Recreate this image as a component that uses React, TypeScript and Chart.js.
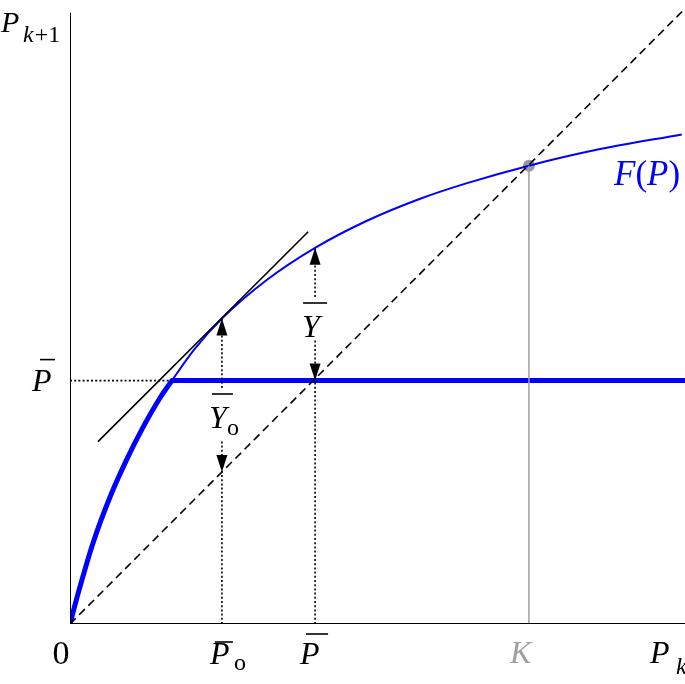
import React, { useEffect, useRef } from "react";
import { Chart, registerables } from "chart.js";

Chart.register(...registerables);

// Population (x, in units of K) and recruitment F(P)
const P_VALUES = [0, 0.011, 0.022, 0.05, 0.087, 0.124, 0.159, 0.196, 0.222, 0.27, 0.331, 0.43, 0.534, 0.647, 0.763, 0.865, 1.0, 1.15, 1.333];
const F_VALUES = [0, 0.042, 0.082, 0.176, 0.276, 0.359, 0.428, 0.492, 0.53, 0.597, 0.665, 0.75, 0.819, 0.878, 0.926, 0.96, 0.998, 1.033, 1.066];

const X_MAX = 1.34;
const Y_MAX = 1.35;
const Y_AXIS_TOP = 1.331;

const P_BAR = 0.53; // harvest cap level
const P_BAR_X = 0.534;
const P0_BAR = 0.331; // point where F'(P) = 1
const F_AT_P0 = 0.665;
const F_AT_PBAR = 0.819;
const CAP_START = 0.222; // where F(P) reaches P_BAR
const K_VALUE = 1.0;
const F_AT_K = 0.998;

const TANGENT_X = [0.061, 0.519];
const TANGENT_Y = [0.397, 0.854];

// label gaps on the dotted verticals (data units)
const GAP_P0 = [0.401, 0.514];
const GAP_PBAR = [0.619, 0.712];

const BLUE = "#0000ff";
const GREY = "#a0a0a0";
const SERIF = '"Liberation Serif", "Times New Roman", Times, serif';

const pts = (xs: number[], ys: number[]) => xs.map((x, i) => ({ x, y: ys[i] }));

export default function App() {
  const ref = useRef<HTMLCanvasElement | null>(null);

  useEffect(() => {
    const canvas = ref.current;
    if (!canvas) return;
    let chart: any = null;
    let cancelled = false;

    const build = () => {
      if (cancelled) return;
      const capIdx = P_VALUES.indexOf(CAP_START);
      const capCurve = pts(P_VALUES.slice(0, capIdx + 1), F_VALUES.slice(0, capIdx + 1));

      const line = (data: any[], color: string, width: number, dash: number[] = [], extra: any = {}) => ({
        data,
        showLine: true,
        borderColor: color,
        backgroundColor: color,
        borderWidth: width,
        borderDash: dash,
        pointRadius: 0,
        pointHoverRadius: 0,
        fill: false,
        tension: 0,
        ...extra,
      });

      const dot = [2, 2.2];

      const labelsPlugin = {
        id: "labels",
        afterDatasetsDraw(c: any) {
          const ctx = c.ctx as CanvasRenderingContext2D;
          const xs = c.scales.x;
          const ys = c.scales.y;
          const X = (v: number) => xs.getPixelForValue(v);
          const Y = (v: number) => ys.getPixelForValue(v);
          ctx.save();

          const arrow = (xv: number, yv: number, up: boolean) => {
            const x = X(xv);
            const y = Y(yv);
            const len = 17;
            const hw = 5.5;
            ctx.fillStyle = "#000";
            ctx.beginPath();
            ctx.moveTo(x, y);
            ctx.lineTo(x - hw, up ? y + len : y - len);
            ctx.lineTo(x + hw, up ? y + len : y - len);
            ctx.closePath();
            ctx.fill();
          };
          arrow(P0_BAR, F_AT_P0, true);
          arrow(P0_BAR, P0_BAR, false);
          arrow(P_BAR_X, F_AT_PBAR, true);
          arrow(P_BAR_X, P_BAR, false);

          const bar = (x1: number, x2: number, y: number, color = "#000") => {
            ctx.strokeStyle = color;
            ctx.lineWidth = 1.6;
            ctx.beginPath();
            ctx.moveTo(x1, y);
            ctx.lineTo(x2, y);
            ctx.stroke();
          };
          const text = (s: string, x: number, y: number, font: string, color = "#000", align: CanvasTextAlign = "left") => {
            ctx.font = font;
            ctx.fillStyle = color;
            ctx.textBaseline = "alphabetic";
            ctx.textAlign = align;
            ctx.fillText(s, x, y);
            return ctx.measureText(s).width;
          };
          const big = `32px ${SERIF}`;
          const bigI = `italic 32px ${SERIF}`;
          const smallI = `italic 24px ${SERIF}`;
          const small = `24px ${SERIF}`;

          // y-axis title P_{k+1}
          text("P", 1, 32, `italic 30px ${SERIF}`);
          const kw = text("k", 23, 42, smallI);
          text("+1", 23 + kw + 1, 42, small);

          // P-bar on y axis
          const ypb = Y(P_BAR);
          text("P", 32, ypb + 10, bigI);
          bar(40, 55, ypb - 21);

          // bottom labels
          const base = 664;
          text("0", 61, base, `34px ${SERIF}`, "#000", "center");

          text("P", X(P0_BAR) - 12, base, bigI);
          bar(X(P0_BAR) - 7, X(P0_BAR) + 11, 642);
          text("o", X(P0_BAR) + 12, base + 6, small);

          text("P", X(P_BAR_X) - 15, base, bigI);
          bar(X(P_BAR_X) - 9, X(P_BAR_X) + 13, 634);

          text("K", X(K_VALUE) - 19, base - 1, bigI, GREY);

          text("P", 650, base - 1, bigI);
          text("k", 676, base + 10, smallI);

          // F(P)
          let fx = 614;
          const fy = 185;
          const fI = `italic 35px ${SERIF}`;
          const fR = `35px ${SERIF}`;
          fx += text("F", fx, fy, fI, BLUE);
          fx += text("(", fx, fy, fR, BLUE);
          fx += text("P", fx, fy, fI, BLUE);
          text(")", fx, fy, fR, BLUE);

          // Y-bar
          text("Y", X(P_BAR_X) - 13, 337, bigI);
          bar(X(P_BAR_X) - 12, X(P_BAR_X) + 12, 303);

          // Y-bar_o
          text("Y", X(P0_BAR) - 13, 428, bigI);
          bar(X(P0_BAR) - 10, X(P0_BAR) + 11, 394);
          text("o", X(P0_BAR) + 5, 435, small);

          ctx.restore();
        },
      };

      chart = new Chart(canvas, {
        type: "scatter",
        data: {
          datasets: [
            // axes
            line([{ x: 0, y: 0 }, { x: X_MAX, y: 0 }], "#000", 2),
            line([{ x: 0, y: 0 }, { x: 0, y: Y_AXIS_TOP }], "#000", 2),
            // K marker line
            line([{ x: K_VALUE, y: 0 }, { x: K_VALUE, y: F_AT_K }], GREY, 1.5),
            // diagonal P_{k+1} = P_k
            line([{ x: 0, y: 0 }, { x: X_MAX, y: X_MAX }], "#000", 1.6, [8, 5]),
            // dotted guides
            line([{ x: 0, y: P_BAR }, { x: CAP_START, y: P_BAR }], "#000", 1.6, dot),
            line([{ x: P0_BAR, y: 0 }, { x: P0_BAR, y: GAP_P0[0] }], "#000", 1.6, dot),
            line([{ x: P0_BAR, y: GAP_P0[1] }, { x: P0_BAR, y: F_AT_P0 }], "#000", 1.6, dot),
            line([{ x: P_BAR_X, y: 0 }, { x: P_BAR_X, y: GAP_PBAR[0] }], "#000", 1.6, dot),
            line([{ x: P_BAR_X, y: GAP_PBAR[1] }, { x: P_BAR_X, y: F_AT_PBAR }], "#000", 1.6, dot),
            // tangent
            line(pts(TANGENT_X, TANGENT_Y), "#000", 1.6),
            // F(P)
            line(pts(P_VALUES, F_VALUES), BLUE, 2, [], { cubicInterpolationMode: "monotone" }),
            // capped recruitment (thick)
            line(capCurve, BLUE, 5, [], { cubicInterpolationMode: "monotone", borderCapStyle: "round" }),
            line([{ x: CAP_START, y: P_BAR }, { x: X_MAX, y: P_BAR }], BLUE, 5),
            // K point
            {
              data: [{ x: K_VALUE, y: F_AT_K }],
              pointRadius: 6,
              pointHoverRadius: 6,
              pointBorderWidth: 0,
              pointBackgroundColor: "#999999",
              pointBorderColor: "#999999",
              showLine: false,
            },
          ],
        },
        options: {
          responsive: false,
          animation: false,
          devicePixelRatio: 1,
          layout: { autoPadding: false, padding: { left: 70, right: 0, top: 4, bottom: 60 } },
          plugins: { legend: { display: false }, tooltip: { enabled: false } },
          events: [],
          scales: {
            x: { type: "linear", display: false, min: 0, max: X_MAX },
            y: { type: "linear", display: false, min: 0, max: Y_MAX },
          },
        },
        plugins: [labelsPlugin],
      } as any);
    };

    const fonts: any = (document as any).fonts;
    if (fonts && fonts.load) {
      Promise.all([
        fonts.load('italic 32px "Liberation Serif"'),
        fonts.load('32px "Liberation Serif"'),
      ])
        .catch(() => null)
        .then(build);
    } else {
      build();
    }

    return () => {
      cancelled = true;
      if (chart) chart.destroy();
    };
  }, []);

  return (
    <div style={{ position: "absolute", left: 0, top: 0, width: 685, height: 684, background: "#fff" }}>
      <canvas ref={ref} width={685} height={684} style={{ display: "block" }} />
    </div>
  );
}
